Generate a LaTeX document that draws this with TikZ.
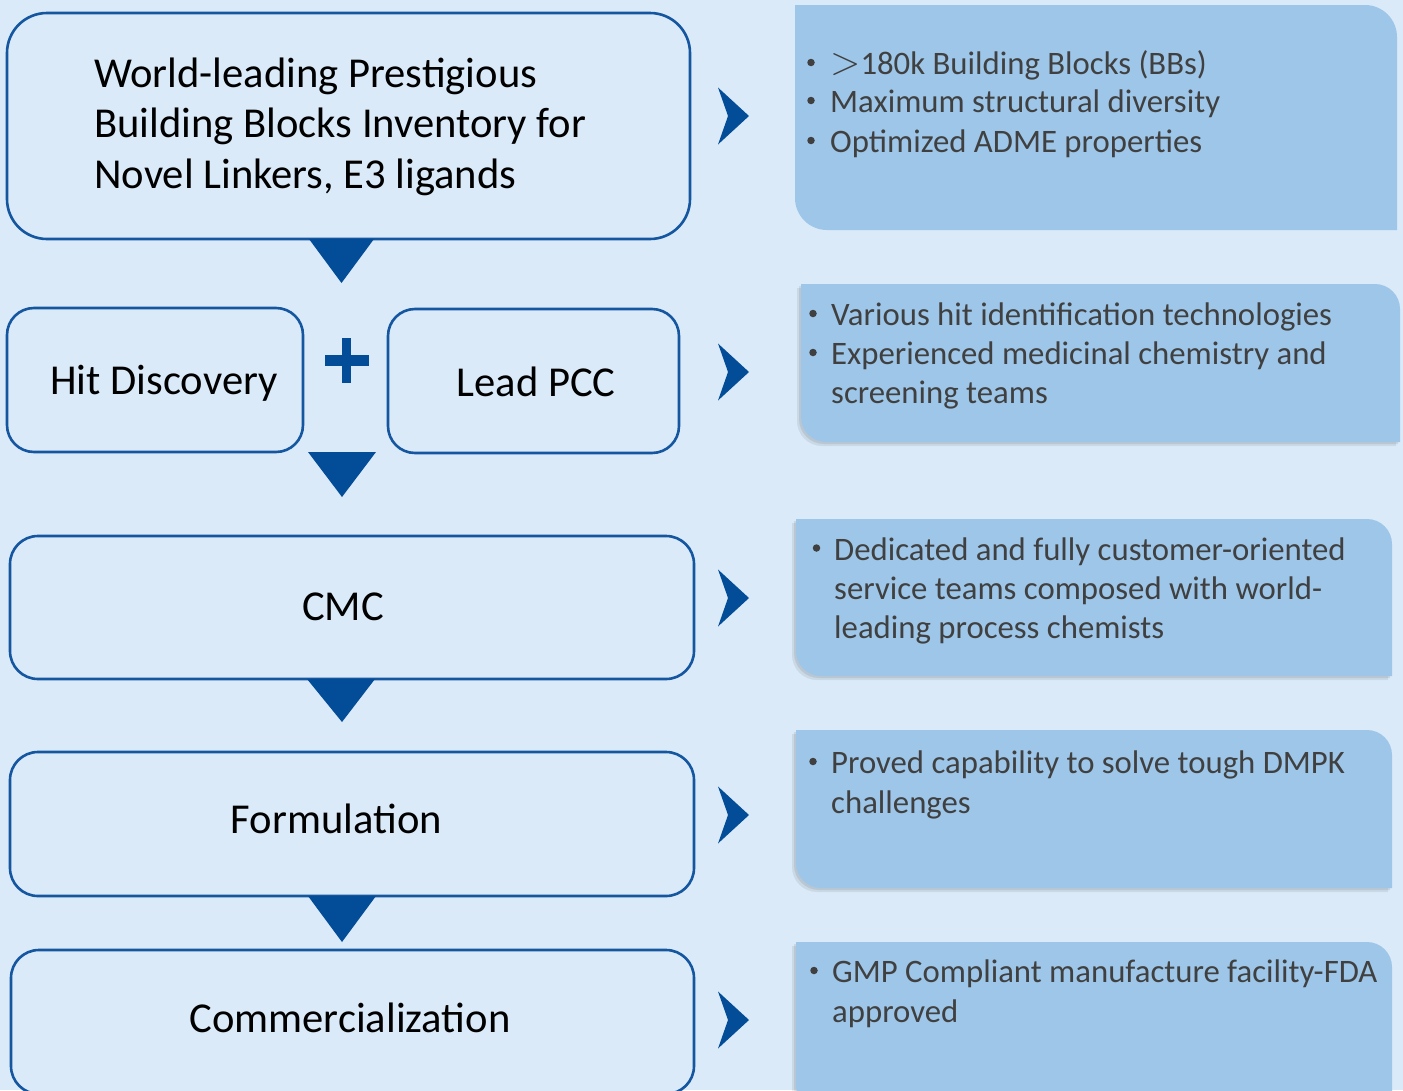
\documentclass[tikz,border=0pt]{standalone}
\usepackage{fontspec}
\setmainfont{Carlito}
\definecolor{bg}{HTML}{DAEAF8}
\definecolor{rfill}{HTML}{9DC6E9}
\definecolor{edge}{HTML}{1556A0}
\definecolor{navy}{HTML}{034C97}
\definecolor{rtext}{HTML}{404040}
% round-diagonal-corner box: x1 y1 x2 y2 r
\newcommand{\rdiagfill}[6]{\fill[#1] (#2,#3) -- ({#4-#6},#3) arc[start angle=270,end angle=360,radius=#6] -- (#4,#5) -- ({#2+#6},#5) arc[start angle=90,end angle=180,radius=#6] -- cycle;}
\newcommand{\rdiagbox}[6]{%
  \begin{scope}[shift={(-4,4)}]\rdiagfill{black,opacity=0.07}{#2}{#3}{#4}{#5}{#6}\end{scope}%
  \begin{scope}[shift={(-2,2)}]\rdiagfill{black,opacity=0.08}{#2}{#3}{#4}{#5}{#6}\end{scope}%
  \rdiagfill{#1}{#2}{#3}{#4}{#5}{#6}}
\begin{document}
\begin{tikzpicture}[x=1pt,y=1pt,yscale=-1,
  lbox/.style={draw=edge,line width=2.6pt,fill=bg,inner sep=0pt},
  ltxt/.style={font=\fontsize{42.6}{51}\selectfont,text=black,inner sep=0pt,anchor=base},
  rtxt/.style={font=\fontsize{32.75}{40}\selectfont,text=rtext,inner sep=0pt,anchor=base west},
  dot/.style={circle,fill=rtext,inner sep=0pt,minimum size=7.5pt},
  tri/.style={fill=navy},
  chev/.style={fill=navy}]
\fill[bg] (0,0) rectangle (1403,1090);
\useasboundingbox (0,0) rectangle (1403,1090);

% left column boxes
\node[lbox,minimum width=683pt,minimum height=226pt,rounded corners=40pt] (b1) at (348.5,126) {};
\node[lbox,minimum width=296pt,minimum height=144pt,rounded corners=27pt] (b2) at (155,380) {};
\node[lbox,minimum width=291pt,minimum height=144pt,rounded corners=27pt] (b3) at (533.5,381) {};
\node[lbox,minimum width=684pt,minimum height=143pt,rounded corners=28pt] (b4) at (352,607.5) {};
\node[lbox,minimum width=684pt,minimum height=144pt,rounded corners=28pt] (b5) at (352,824) {};
\node[lbox,minimum width=683pt,minimum height=144pt,rounded corners=28pt] (b6) at (352.5,1022) {};

% left texts
\node[ltxt,anchor=base west] (t1a) at (94,87) {World-leading Prestigious};
\node[ltxt,anchor=base west] (t1b) at (94,137) {Building Blocks Inventory for};
\node[ltxt,anchor=base west] (t1c) at (94,188) {Novel Linkers, E3 ligands};
\node[ltxt] (t2) at (164,394) {Hit Discovery};
\node[ltxt] (t3) at (536,396) {Lead PCC};
\node[ltxt] (t4) at (343,620) {CMC};
\node[ltxt] (t5) at (336.5,833) {Formulation};
\node[ltxt] (t6) at (350,1032) {Commercialization};

% down triangles
\fill[tri] (309,239) -- (374,239) -- (341.5,283) -- cycle;
\fill[tri] (308,452) -- (376,452) -- (342,497) -- cycle;
\fill[tri] (307,679) -- (375,679) -- (342,722) -- cycle;
\fill[tri] (308,896) -- (376,896) -- (342,942) -- cycle;

% plus sign
\fill[navy] (325,355) rectangle (369,366);
\fill[navy] (342,338) rectangle (351,383);

% chevrons
\foreach \cy in {116,372,598,815,1020}{
  \fill[chev] (718,\cy-28.5) -- (749,\cy) -- (718,\cy+28.5) -- (728,\cy) -- cycle;
}

% right boxes
\rdiagfill{rfill}{795}{5}{1397}{230}{32}
\rdiagbox{rfill}{801}{284}{1400}{442}{25}
\rdiagbox{rfill}{796}{519}{1392}{676}{25}
\rdiagbox{rfill}{796}{730}{1392}{888}{25}
\rdiagbox{rfill}{796}{942}{1392}{1110}{25}

% right texts
\node[dot] (r1d) at (811,62.5) {};
\node[rtxt] (r1a) at (830,74) {\scalebox{1.6}{$>$}180k Building Blocks (BBs)};
\node[dot] (r1e) at (811,100.5) {};
\node[rtxt] (r1b) at (830,112) {Maximum structural diversity};
\node[dot] (r1f) at (811,140.5) {};
\node[rtxt] (r1c) at (830,152) {Optimized ADME properties};

\node[dot] (r2d) at (813,313.5) {};
\node[rtxt] (r2a) at (831,325) {Various hit identification technologies};
\node[dot] (r2e) at (813,352.5) {};
\node[rtxt] (r2b) at (831,364) {Experienced medicinal chemistry and};
\node[rtxt] (r2c) at (831,403) {screening teams};

\node[dot] (r3d) at (816.5,548) {};
\node[rtxt] (r3a) at (834,560) {Dedicated and fully customer-oriented};
\node[rtxt] (r3b) at (834,599) {service teams composed with world-};
\node[rtxt] (r3c) at (834,638) {leading process chemists};

\node[dot] (r4d) at (813,761.5) {};
\node[rtxt] (r4a) at (831,773) {Proved capability to solve tough DMPK};
\node[rtxt] (r4b) at (831,813) {challenges};

\node[dot] (r5d) at (814,970.5) {};
\node[rtxt] (r5a) at (832,982) {GMP Compliant manufacture facility-FDA};
\node[rtxt] (r5b) at (832,1022) {approved};
\end{tikzpicture}
\end{document}
